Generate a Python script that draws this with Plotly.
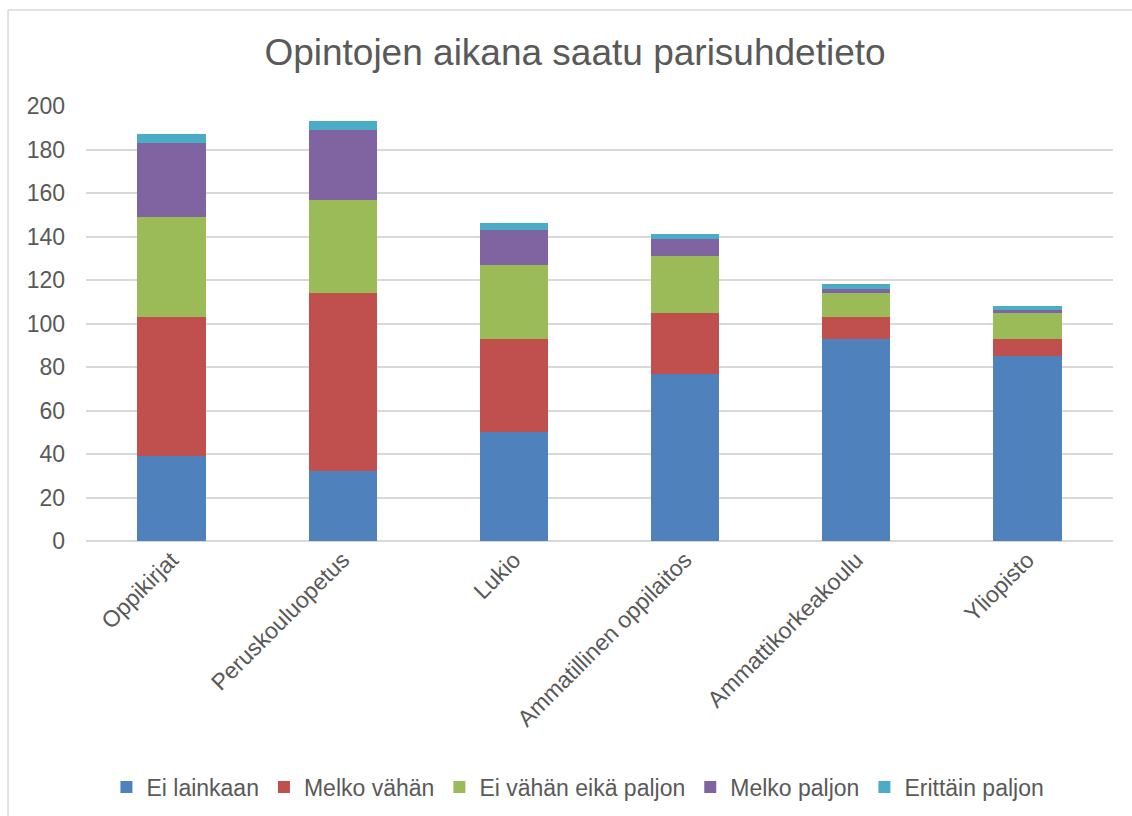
import plotly.graph_objects as go

categories = ["Oppikirjat", "Peruskouluopetus", "Lukio", "Ammatillinen oppilaitos",
              "Ammattikorkeakoulu", "Yliopisto"]

ei_lainkaan = [39, 32, 50, 77, 93, 85]
melko_vahan = [64, 82, 43, 28, 10, 8]
ei_vahan_eika_paljon = [46, 43, 34, 26, 11, 12]
melko_paljon = [34, 32, 16, 8, 2, 1]
erittain_paljon = [4, 4, 3, 2, 2, 2]

series = [
    ("Ei lainkaan", ei_lainkaan, "#4F81BD"),
    ("Melko vähän", melko_vahan, "#C0504D"),
    ("Ei vähän eikä paljon", ei_vahan_eika_paljon, "#9BBB59"),
    ("Melko paljon", melko_paljon, "#8064A2"),
    ("Erittäin paljon", erittain_paljon, "#4BACC6"),
]

fig = go.Figure()
for name, vals, color in series:
    fig.add_trace(go.Bar(name=name, x=categories, y=vals, marker_color=color,
                         marker_line_width=0))

text_color = "#595959"
grid = "#D9D9D9"

fig.update_layout(
    barmode="stack",
    bargap=0.6,
    width=1132, height=816,
    margin=dict(l=86, r=19, t=106, b=275, autoexpand=False),
    paper_bgcolor="white", plot_bgcolor="white",
    font=dict(family="Liberation Sans, Arial", color=text_color, size=23),
    title=dict(text="Opintojen aikana saatu parisuhdetieto", x=575 / 1132, xanchor="center",
               y=1 - 52 / 816, yanchor="middle",
               font=dict(size=37, color=text_color)),
    legend=dict(orientation="h", x=0.479, xanchor="center", y=-0.5655, yanchor="middle",
                font=dict(size=23, color=text_color), traceorder="normal",
                itemwidth=30),
)
fig.update_yaxes(range=[0, 200], dtick=20, showgrid=True, gridcolor=grid, gridwidth=1.5,
                 zeroline=True, zerolinecolor=grid, zerolinewidth=1.5,
                 showline=False, ticks="", ticklabelstandoff=20,
                 tickfont=dict(size=23, color=text_color))
fig.update_xaxes(tickangle=-45, showline=False, ticks="", automargin=False,
                 tickfont=dict(size=23, color=text_color))

# chart border (left and top)
fig.add_shape(type="line", xref="paper", yref="paper", x0=-0.0759, x1=-0.0759,
              y0=1.2207, y1=-0.7, line=dict(color=grid, width=1.5))
fig.add_shape(type="line", xref="paper", yref="paper", x0=-0.0759, x1=1.05,
              y0=1.2207, y1=1.2207, line=dict(color=grid, width=1.5))

fig.write_html("out.html", config={"displayModeBar": False},
               post_script="document.body.style.margin='0';")
